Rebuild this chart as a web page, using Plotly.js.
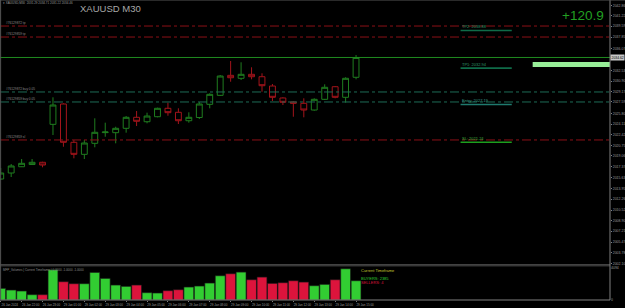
<!DOCTYPE html>
<html><head><meta charset="utf-8">
<script src="https://cdn.plot.ly/plotly-3.0.1.min.js"></script>
<style>html,body{margin:0;padding:0;background:#000;}#c{width:625px;height:308px;}</style>
</head><body><div id="c"></div>
<script>
// ---- data ----
const barIndex = [0,1,2,3,4,5,6,7,8,9,10,11,12,13,14,15,16,17,18,19,20,21,22,23,24,25,26,27,28,29,30,31,32,33,34];
const openP  = [2015.42,2016.37,2017.36,2017.71,2018.06,2024.06,2027.27,2021.22,2019.32,2021.06,2022.75,2022.74,2023.43,2025.17,2024.47,2025.26,2026.59,2025.96,2024.63,2025.14,2027.22,2028.64,2031.80,2031.33,2031.96,2031.58,2030.11,2028.22,2027.59,2027.38,2026.32,2028.01,2030.00,2028.33,2031.49];
const highP  = [2017.16,2017.79,2018.58,2018.58,2018.15,2028.33,2027.38,2021.58,2021.58,2025.01,2024.32,2023.68,2025.37,2026.16,2025.90,2026.69,2027.48,2026.59,2025.96,2027.59,2028.96,2031.85,2034.06,2033.86,2033.07,2032.12,2030.43,2028.33,2027.70,2028.17,2028.17,2030.38,2030.11,2031.49,2035.01];
const lowP   = [2015.26,2015.74,2017.32,2017.63,2017.27,2022.37,2020.52,2018.69,2018.58,2020.43,2022.10,2021.06,2022.74,2023.79,2024.22,2025.17,2025.42,2024.11,2024.32,2024.90,2026.59,2028.53,2030.79,2031.06,2031.17,2029.21,2027.74,2027.11,2025.26,2025.17,2026.21,2027.90,2028.17,2027.48,2031.17];
const closeP = [2016.37,2017.48,2017.90,2018.06,2017.63,2027.11,2021.22,2019.32,2021.11,2022.80,2022.85,2023.43,2025.17,2024.54,2025.37,2026.59,2025.90,2024.63,2025.17,2027.27,2028.80,2031.69,2031.42,2031.96,2031.58,2030.16,2028.33,2027.54,2027.38,2026.32,2028.01,2029.91,2028.33,2031.33,2034.62];
const volumes = [1400,1200,1080,640,640,3640,2200,1960,1960,3320,2600,1800,1640,1800,880,840,1120,1240,1560,1680,2040,2920,3160,3360,2440,2760,2000,2080,2320,2160,1720,1880,2440,3760,2320];

const xTickIdx  = [0,2,4,6,8,10,12,14,16,18,20,22,24,26,28,30,32,34];
const xTickText = ["26 Jan 2024","26 Jan 22:00","26 Jan 23:00","29 Jan 01:00","29 Jan 02:00","29 Jan 03:00","29 Jan 04:00","29 Jan 05:00","29 Jan 06:00","29 Jan 07:00","29 Jan 08:00","29 Jan 09:00","29 Jan 10:00","29 Jan 11:00","29 Jan 12:00","29 Jan 13:00","29 Jan 14:00","29 Jan 15:00"];

const priceTicks = [2042.86,2041.22,2039.59,2037.85,2036.07,2032.53,2030.90,2029.17,2027.59,2025.80,2024.11,2022.42,2020.75,2019.06,2017.37,2015.63,2013.95,2012.26,2010.52,2008.90,2007.21,2005.47,2003.78,2002.10];
const priceTickText = ["2042.86","2041.22","2039.59","2037.85","2036.07","2032.53","2030.90","2029.17","2027.59","2025.80","2024.11","2022.42","2020.75","2019.06","2017.37","2015.63","2013.95","2012.26","2010.52","2008.90","2007.21","2005.47","2003.78","2002.10"];

const orderLevelPrices = [2039.59, 2037.85, 2029.17, 2027.59, 2021.59];
const orderLevelNames  = ["#76129872 tp","#76129859 tp","#76129872 buy 0.05","#76129859 buy 0.05","#76129859 sl"];
const orderLevelKinds  = ["tp","tp","buy","buy","sl"];

const planNames  = ["TP2","TP1","Entry","SL"];
const planPrices = [2038.88, 2032.94, 2027.19, 2021.24];

const currentPrice = 2034.62;
const profitText = "+120.9";
const volumeMaxLabel = "4094";
const buyers = 2385, sellers = 4;

// ---- styles / layout ----
const UP = "#1f7d1f", DN = "#a3141b";
const VUP = "#32cd32", VDN = "#dc143c";
const AX = "#808080", TXT = "#9a9a9a";
const PMIN = 2001.84, PMAX = 2043.70;
const MAIN_BOTTOM = 0.1167, VOL_TOP = 0.1133;
const FONT = "Liberation Sans";

const candle = {
  type: "candlestick", x: barIndex, open: openP, high: highP, low: lowP, close: closeP,
  xaxis: "x", yaxis: "y",
  increasing: {line: {color: UP, width: 1}, fillcolor: "#000"},
  decreasing: {line: {color: DN, width: 1}, fillcolor: "#000"},
  whiskerwidth: 0, hoverinfo: "skip", showlegend: false
};
const vol = {
  type: "bar", x: barIndex, y: volumes, xaxis: "x", yaxis: "y2",
  marker: {color: barIndex.map(i => closeP[i] >= openP[i] ? VUP : VDN), line: {color: "#1a1a1a", width: 0.6}},
  hoverinfo: "skip", showlegend: false
};

const shapes = [];
const annotations = [];
const levelColor = {tp: "#8b1016", buy: "#1d6b55", sl: "#8b1016"};
orderLevelPrices.forEach((p, i) => {
  shapes.push({type: "line", xref: "paper", x0: 0, x1: 1, yref: "y", y0: p, y1: p,
    line: {color: levelColor[orderLevelKinds[i]], width: 1, dash: "dashdot"}});
  annotations.push({xref: "paper", x: 0.008, yref: "y", y: p, yshift: 0, xanchor: "left", yanchor: "bottom", borderpad: 0,
    text: orderLevelNames[i], showarrow: false, font: {size: 3.2, color: "#8a8a8a", family: FONT}});
});
// current price line
shapes.push({type: "line", xref: "paper", x0: 0, x1: 1, yref: "y", y0: currentPrice, y1: currentPrice,
  line: {color: "#1f8a1f", width: 1}});
// plan labels with underline bars
const planTextColor = ["#2e9a6a","#2e9a6a","#3a9a8a","#3cb03c"];
const planLineColor = ["#0f6b48","#0f6b48","#1f7a6e","#1e9e1e"];
const planX0 = 44.0, planX1 = 48.9;
planNames.forEach((n, i) => {
  const p = planPrices[i];
  shapes.push({type: "line", xref: "x", x0: planX0, x1: planX1, yref: "y", y0: p, y1: p,
    line: {color: planLineColor[i], width: 1.6}});
  annotations.push({xref: "x", x: planX0, yref: "y", y: p, yshift: 0.5, xanchor: "left", yanchor: "bottom", borderpad: 0,
    text: n + ": " + p.toFixed(2), showarrow: false, font: {size: 4, color: planTextColor[i], family: FONT}});
});
// TP1 highlight band on the right
shapes.push({type: "rect", xref: "x", x0: 50.9, x1: 58.4, yref: "y", y0: 2033.12, y1: 2033.91,
  fillcolor: "#98ee98", line: {width: 0}});
// frame lines
shapes.push({type: "line", xref: "paper", x0: 0, x1: 1, yref: "paper", y0: MAIN_BOTTOM, y1: MAIN_BOTTOM, line: {color: AX, width: 1}});
shapes.push({type: "line", xref: "paper", x0: 0, x1: 1, yref: "paper", y0: VOL_TOP, y1: VOL_TOP, line: {color: "#333", width: 1}});
shapes.push({type: "line", xref: "paper", x0: 0, x1: 1, yref: "paper", y0: 0, y1: 0, line: {color: AX, width: 1}});
shapes.push({type: "line", xref: "paper", x0: 1, x1: 1, yref: "paper", y0: 0, y1: 1, line: {color: AX, width: 1}});
shapes.push({type: "line", xref: "paper", x0: 0.001, x1: 0.001, yref: "paper", y0: 0, y1: 1, line: {color: "#555", width: 1}});
shapes.push({type: "line", xref: "paper", x0: 0, x1: 1.03, yref: "paper", y0: 1, y1: 1, line: {color: "#555", width: 1}});

// texts
annotations.push({xref: "paper", x: 0.004, yref: "paper", y: 0.999, xanchor: "left", yanchor: "top", showarrow: false, borderpad: 0,
  text: "▾ XAUUSD,M30  2031.29 2034.71 2031.22 2034.46", font: {size: 3, color: "#9a9a9a", family: FONT}});
annotations.push({xref: "paper", x: 0.181, yref: "paper", y: 0.971, xanchor: "center", yanchor: "middle", showarrow: false,
  text: "XAUUSD M30", font: {size: 9.5, color: "#a8a8a8", family: FONT}});
annotations.push({xref: "paper", x: 0.956, yref: "paper", y: 0.95, xanchor: "center", yanchor: "middle", showarrow: false,
  text: profitText, font: {size: 13.5, color: "#22a022", family: FONT}});
annotations.push({xref: "paper", x: 1, yref: "y", y: currentPrice, xanchor: "left", yanchor: "middle", showarrow: false,
  text: currentPrice.toFixed(2), bgcolor: "#c8c8c8", borderpad: 0.5, font: {size: 3.4, color: "#000", family: FONT}});
annotations.push({xref: "paper", x: 0.004, yref: "paper", y: VOL_TOP - 0.004, xanchor: "left", yanchor: "top", showarrow: false, borderpad: 0,
  text: "MFP_Volumes | Current Timeframe | 0.0000 -1.0000 -1.0000", font: {size: 3, color: "#8a8a8a", family: FONT}});
annotations.push({xref: "paper", x: 0.59, yref: "paper", y: 0.097, xanchor: "left", yanchor: "middle", showarrow: false, borderpad: 0,
  text: "Current Timeframe", font: {size: 4, color: "#c8c832", family: FONT}});
annotations.push({xref: "paper", x: 0.59, yref: "paper", y: 0.073, xanchor: "left", yanchor: "middle", showarrow: false, borderpad: 0,
  text: "BUYERS: " + buyers, font: {size: 4, color: "#32cd32", family: FONT}});
annotations.push({xref: "paper", x: 0.59, yref: "paper", y: 0.057, xanchor: "left", yanchor: "middle", showarrow: false, borderpad: 0,
  text: "SELLERS: " + sellers, font: {size: 4, color: "#dc143c", family: FONT}});

const layout = {
  width: 625, height: 308,
  margin: {l: 0, r: 15, t: 0, b: 8, pad: 0},
  paper_bgcolor: "#000", plot_bgcolor: "#000",
  showlegend: false, bargap: 0.06, boxgap: 0.2,
  font: {family: FONT, color: TXT, size: 3.5},
  xaxis: {
    range: [-0.07, 58.3], anchor: "y2", showgrid: false, zeroline: false,
    tickvals: xTickIdx, ticktext: xTickText, tickfont: {size: 3, color: TXT, family: FONT}, tickangle: 0,
    ticks: "outside", ticklen: 1, tickcolor: AX, ticklabelshift: 9, ticklabelstandoff: 0,
    rangeslider: {visible: false}, fixedrange: true, showline: false, automargin: false
  },
  yaxis: {
    domain: [MAIN_BOTTOM, 1], range: [PMIN, PMAX], side: "right", anchor: "x",
    showgrid: false, zeroline: false, tickvals: priceTicks, ticktext: priceTickText,
    tickfont: {size: 3.5, color: TXT, family: FONT}, ticks: "outside", ticklen: 1, tickcolor: AX, ticklabelstandoff: 0, automargin: false
  },
  yaxis2: {
    domain: [0, VOL_TOP], range: [0, 4094], side: "right", anchor: "x",
    showgrid: false, zeroline: false, tickvals: [0, 3900], ticktext: ["0", volumeMaxLabel],
    tickfont: {size: 3.5, color: TXT, family: FONT}, ticks: "", ticklabelstandoff: 0, automargin: false
  },
  shapes: shapes, annotations: annotations
};
Plotly.newPlot("c", [vol, candle], layout, {displayModeBar: false, staticPlot: true});
</script></body></html>
